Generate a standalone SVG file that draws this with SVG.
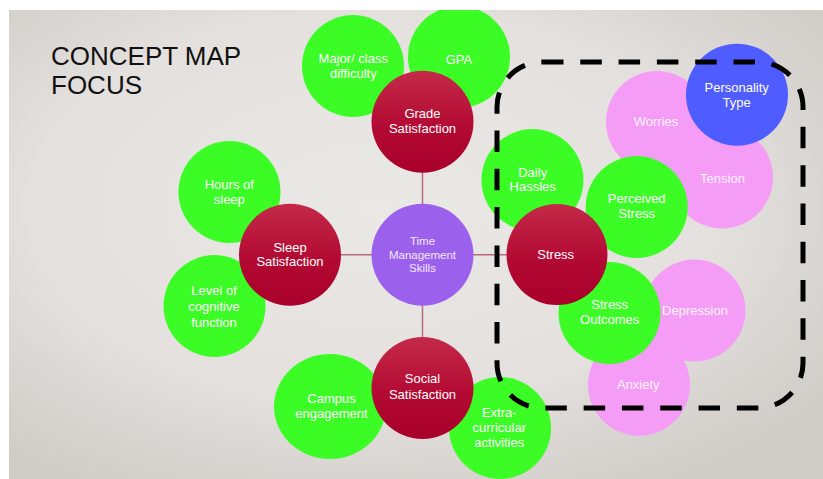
<svg xmlns="http://www.w3.org/2000/svg" width="823" height="479" viewBox="0 0 823 479">
  <defs>
    <radialGradient id="bg" cx="45%" cy="42%" r="70%">
      <stop offset="0" stop-color="#ebe9e6"/>
      <stop offset="0.6" stop-color="#e3e0dd"/>
      <stop offset="1" stop-color="#cfcbc7"/>
    </radialGradient>
    <linearGradient id="red" x1="0" y1="0" x2="0" y2="1">
      <stop offset="0" stop-color="#c42a48"/>
      <stop offset="0.55" stop-color="#b30a33"/>
      <stop offset="1" stop-color="#a8002b"/>
    </linearGradient>
    <clipPath id="slide">
      <rect x="9" y="10" width="814" height="469"/>
    </clipPath>
  </defs>
  <style>
    .g { fill: #3bfc24; }
    .p { fill: #f59cf7; }
    .r { fill: url(#red); }
    .b { fill: #4f5cff; }
    .v { fill: #9b60ec; }
    .t { font-family: "Liberation Sans", Arial, sans-serif; font-size: 13px; fill: #ffffff; text-anchor: middle; }
    .tp { fill: #fff4ff; }
    .ts { font-size: 11.5px; fill: #f4eaff; }
    .c { stroke: #b86a7a; stroke-width: 1.5; fill: none; }
    .title { font-family: "Liberation Sans", Arial, sans-serif; font-size: 26px; fill: #111111; }
  </style>
  <rect x="0" y="0" width="823" height="479" fill="#ffffff"/>
  <rect x="9" y="10" width="814" height="469" fill="url(#bg)"/>

  <g class="title" id="title">
    <text x="51" y="65">CONCEPT MAP</text>
    <text x="51" y="94">FOCUS</text>
  </g>

  <g id="connectors">
    <line class="c" x1="422.5" y1="121.7" x2="422.5" y2="254.7"/>
    <line class="c" x1="290" y1="254.7" x2="422.5" y2="254.7"/>
    <line class="c" x1="422.5" y1="254.7" x2="557" y2="254.7"/>
    <line class="c" x1="422.5" y1="254.7" x2="422.5" y2="388"/>
  </g>

  <g clip-path="url(#slide)">
    <g id="worries">
      <circle class="p" cx="657" cy="122" r="51"/>
      <text class="t tp" x="656" y="126">Worries</text>
    </g>
    <g id="tension">
      <circle class="p" cx="722" cy="177.5" r="51"/>
      <text class="t tp" x="722.5" y="182.7">Tension</text>
    </g>
    <g id="depression">
      <circle class="p" cx="694.5" cy="310.5" r="51"/>
      <text class="t tp" x="695" y="315">Depression</text>
    </g>
    <g id="anxiety">
      <circle class="p" cx="639" cy="384.7" r="51"/>
      <text class="t tp" x="638.3" y="389">Anxiety</text>
    </g>
    <g id="personality-type">
      <circle class="b" cx="737" cy="94.7" r="51"/>
      <text class="t" x="736.7" y="91.7">Personality</text>
      <text class="t" x="736.7" y="106.7">Type</text>
    </g>

    <g id="major-class-difficulty">
      <circle class="g" cx="353" cy="66" r="51"/>
      <text class="t" x="353.3" y="62.7">Major/ class</text>
      <text class="t" x="353.3" y="77.7">difficulty</text>
    </g>
    <g id="gpa">
      <circle class="g" cx="459" cy="57" r="51"/>
      <text class="t" x="459" y="64">GPA</text>
    </g>
    <g id="hours-of-sleep">
      <circle class="g" cx="229.5" cy="192" r="51"/>
      <text class="t" x="229.3" y="189">Hours of</text>
      <text class="t" x="229.3" y="203.5">sleep</text>
    </g>
    <g id="level-of-cognitive-function">
      <circle class="g" cx="214.5" cy="306" r="51"/>
      <text class="t" x="214" y="295">Level of</text>
      <text class="t" x="214" y="310.7">cognitive</text>
      <text class="t" x="214" y="326.5">function</text>
    </g>
    <g id="campus-engagement">
      <ellipse class="g" cx="330" cy="406.5" rx="56" ry="52.5"/>
      <text class="t" x="331.5" y="403.3">Campus</text>
      <text class="t" x="331.5" y="418.3">engagement</text>
    </g>
    <g id="extra-curricular-activities">
      <circle class="g" cx="500" cy="428" r="51"/>
      <text class="t" x="499.3" y="416.7">Extra-</text>
      <text class="t" x="499.3" y="431.7">curricular</text>
      <text class="t" x="499.3" y="447.3">activities</text>
    </g>
    <g id="daily-hassles">
      <circle class="g" cx="532.5" cy="180" r="51"/>
      <text class="t" x="532.7" y="176.7">Daily</text>
      <text class="t" x="532.7" y="191">Hassles</text>
    </g>
    <g id="perceived-stress">
      <circle class="g" cx="636.7" cy="207" r="51"/>
      <text class="t" x="636.7" y="203.3">Perceived</text>
      <text class="t" x="636.7" y="218.3">Stress</text>
    </g>
    <g id="stress-outcomes">
      <circle class="g" cx="609.5" cy="313" r="51"/>
      <text class="t" x="609.7" y="309">Stress</text>
      <text class="t" x="609.7" y="324.3">Outcomes</text>
    </g>

    <g id="time-management-skills">
      <circle class="v" cx="422.5" cy="254.7" r="51"/>
      <text class="t ts" x="422.5" y="245">Time</text>
      <text class="t ts" x="422.5" y="259">Management</text>
      <text class="t ts" x="422.5" y="272.3">Skills</text>
    </g>
    <g id="grade-satisfaction">
      <circle class="r" cx="422.5" cy="121.7" r="51"/>
      <text class="t" x="422.5" y="118.3">Grade</text>
      <text class="t" x="422.5" y="133.3">Satisfaction</text>
    </g>
    <g id="sleep-satisfaction">
      <circle class="r" cx="290" cy="254.7" r="51"/>
      <text class="t" x="290" y="251.7">Sleep</text>
      <text class="t" x="290" y="266">Satisfaction</text>
    </g>
    <g id="stress">
      <circle class="r" cx="557" cy="254.5" r="50.5"/>
      <text class="t" x="555.7" y="259.3">Stress</text>
    </g>
    <g id="social-satisfaction">
      <circle class="r" cx="422.5" cy="388" r="51"/>
      <text class="t" x="422.5" y="383.3">Social</text>
      <text class="t" x="422.5" y="399">Satisfaction</text>
    </g>
  </g>

  <g id="focus-box">
    <rect x="497" y="62" width="306" height="346" rx="45" ry="45" fill="none" stroke="#000000" stroke-width="5" stroke-dasharray="21.5 16.8"/>
  </g>
</svg>
